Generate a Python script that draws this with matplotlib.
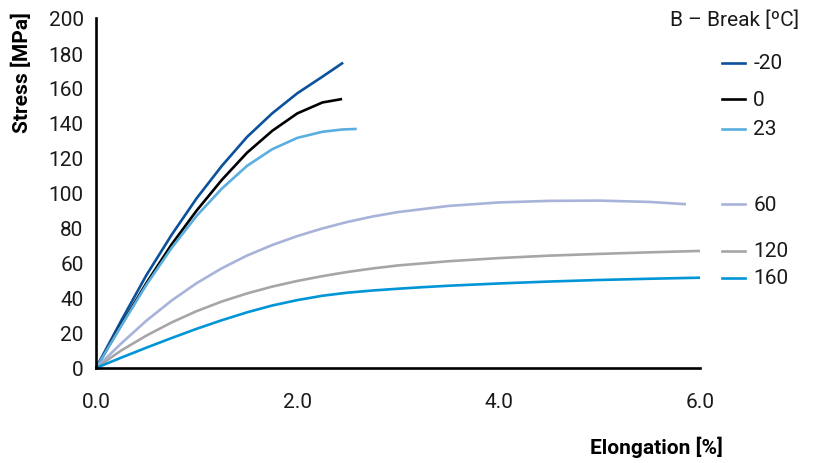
import matplotlib
matplotlib.use("Agg")
import matplotlib.pyplot as plt
from matplotlib.lines import Line2D
import matplotlib.transforms as mtransforms

plt.rcParams['font.family'] = ['Roboto', 'DejaVu Sans']

# ---- data ----
temps = ["-20", "0", "23", "60", "120", "160"]

x_m20 = [0, 0.25, 0.5, 0.75, 1.0, 1.25, 1.5, 1.75, 2.0, 2.25, 2.455]
y_m20 = [0, 27, 53, 76, 97, 115.5, 132, 145.5, 157, 166.5, 174.5]

x_0 = [0, 0.25, 0.5, 0.75, 1.0, 1.25, 1.5, 1.75, 2.0, 2.25, 2.445]
y_0 = [0, 24.5, 48.5, 70.5, 90, 107.5, 123, 135.5, 145.5, 151.75, 153.7]

x_23 = [0, 0.25, 0.5, 0.75, 1.0, 1.25, 1.5, 1.75, 2.0, 2.25, 2.45, 2.59]
y_23 = [0, 24, 47.5, 68.5, 87, 102.5, 115.5, 125, 131.5, 135, 136.3, 136.6]

x_60 = [0, 0.25, 0.5, 0.75, 1.0, 1.25, 1.5, 1.75, 2.0, 2.25, 2.5, 2.75, 3.0,
        3.5, 4.0, 4.5, 5.0, 5.5, 5.86]
y_60 = [0, 14, 27, 38.5, 48.5, 57, 64.25, 70.25, 75.4, 79.75, 83.5, 86.6, 89.1,
        92.6, 94.6, 95.5, 95.65, 94.9, 93.6]

x_120 = [0, 0.25, 0.5, 0.75, 1.0, 1.25, 1.5, 1.75, 2.0, 2.25, 2.5, 2.75, 3.0,
         3.5, 4.0, 4.5, 5.0, 5.5, 6.0]
y_120 = [0, 10, 18.5, 26, 32.5, 38, 42.6, 46.5, 49.75, 52.5, 54.9, 56.9, 58.6,
         61.0, 62.8, 64.2, 65.2, 66.1, 66.9]

x_160 = [0, 0.25, 0.5, 0.75, 1.0, 1.25, 1.5, 1.75, 2.0, 2.25, 2.5, 2.75, 3.0,
         3.25, 3.5, 4.0, 4.5, 5.0, 5.5, 6.0]
y_160 = [0, 5.9, 11.6, 17.1, 22.4, 27.3, 31.8, 35.7, 38.8, 41.3, 43.05, 44.3, 45.3,
         46.2, 47.0, 48.3, 49.4, 50.3, 51.0, 51.6]

xs = [x_m20, x_0, x_23, x_60, x_120, x_160]
ys = [y_m20, y_0, y_23, y_60, y_120, y_160]

x_ticks = [0, 2, 4, 6]
y_ticks = list(range(0, 201, 20))

# ---- style ----
colors = ["#0B519B", "#000000", "#5AAEE0", "#A8B3DA", "#A6A6A8", "#0095D7"]
txt_color = '#1a1a1a'

fig = plt.figure(figsize=(8.17, 4.64), dpi=100)
ax = fig.add_axes([96/817, 1-369/464, 604/817, 350/464])

for x, y, c in zip(xs, ys, colors):
    ax.plot(x, y, color=c, lw=1.9, solid_capstyle='butt', solid_joinstyle='round',
            clip_on=False)

ax.set_xlim(0, 6)
ax.set_ylim(0, 200)
ax.set_xticks(x_ticks)
ax.set_xticklabels([f"{v:.1f}" for v in x_ticks])
ax.set_yticks(y_ticks)
ax.tick_params(axis='both', length=0, labelsize=15, colors=txt_color)
ax.tick_params(axis='x', pad=17)
ax.tick_params(axis='y', pad=9)
for s in ['top', 'right']:
    ax.spines[s].set_visible(False)
for s in ['left', 'bottom']:
    ax.spines[s].set_linewidth(1.9)
    ax.spines[s].set_color('black')

# axis labels
fig.text(22/817, 1-12/464, "Stress [MPa]", rotation=90, ha='center', va='top',
         fontsize=15, fontweight='bold')
fig.text(723/817, 1-447/464, "Elongation [%]", ha='right', va='center',
         fontsize=15, fontweight='bold')

# legend title
fig.text(799/817, 1-20/464, "B – Break [ºC]", ha='right', va='center', fontsize=15,
         color=txt_color)

# legend entries at each curve's end value
trans = mtransforms.blended_transform_factory(ax.transAxes, ax.transData)
for lab, y, c in zip(temps, ys, colors):
    ax.add_line(Line2D([1.036, 1.0745], [y[-1], y[-1]], transform=trans,
                       color=c, lw=1.9, clip_on=False))
    ax.text(1.088, y[-1], lab, transform=trans, ha='left', va='center',
            fontsize=15, color=txt_color)

fig.savefig("out.png", dpi=100)
